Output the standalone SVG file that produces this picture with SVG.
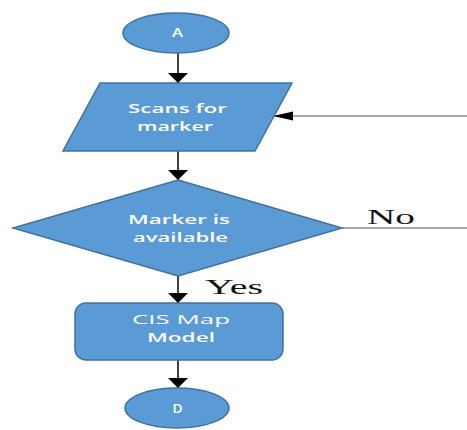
<svg xmlns="http://www.w3.org/2000/svg" width="467" height="430" viewBox="0 0 467 430">
  <defs>
    <marker id="arrow" markerUnits="userSpaceOnUse" markerWidth="10" markerHeight="20" viewBox="0 0 10 20" refX="10" refY="10" orient="auto">
      <path d="M0,0 L10,10 L0,20 Z" fill="#000"/>
    </marker>
    <marker id="arrowSide" markerUnits="userSpaceOnUse" markerWidth="20" markerHeight="10" viewBox="0 0 20 10" refX="20" refY="5" orient="auto">
      <path d="M0,0.5 L20,5 L0,9.5 Z" fill="#000"/>
    </marker>
  </defs>
  <style>
    .shape { fill: #5B9BD5; stroke: #41719C; stroke-width: 1.5; }
    .label { fill: #FFFFFF; font-family: "Open Sans", "Liberation Sans", sans-serif; font-size: 13px; font-weight: 600; text-anchor: middle; }
    .thin { font-weight: 400; }
    .small { font-size: 12px; }
    .edge { fill: #111; font-family: "Liberation Serif", "Times New Roman", serif; font-size: 20px; }
    .conn { stroke: #000; stroke-width: 1.5; fill: none; }
    .feed { stroke: #555; stroke-width: 1.2; fill: none; }
  </style>
  <rect width="467" height="430" fill="#FFFFFF"/>

  <g id="connectors">
    <line class="conn" x1="178" y1="53" x2="178" y2="83" marker-end="url(#arrow)"/>
    <line class="conn" x1="178" y1="151" x2="178" y2="180" marker-end="url(#arrow)"/>
    <line class="conn" x1="178" y1="276" x2="178" y2="303" marker-end="url(#arrow)"/>
    <line class="conn" x1="178" y1="360" x2="178" y2="388" marker-end="url(#arrow)"/>
    <line class="feed" x1="467" y1="116" x2="273" y2="116" marker-end="url(#arrowSide)"/>
    <line class="feed" x1="342" y1="228" x2="467" y2="228"/>
    <text class="edge" x="367" y="224" textLength="48" lengthAdjust="spacingAndGlyphs">No</text>
    <text class="edge" x="205" y="294" textLength="58" lengthAdjust="spacingAndGlyphs">Yes</text>
  </g>

  <g id="node-a">
    <ellipse class="shape" cx="176" cy="33" rx="53" ry="20"/>
    <text class="label small" x="177.5" y="37" textLength="11" lengthAdjust="spacingAndGlyphs">A</text>
  </g>

  <g id="node-scan">
    <polygon class="shape" points="100,83 292,83 255,151 63,151"/>
    <text class="label" x="177.5" y="113" textLength="99" lengthAdjust="spacingAndGlyphs">Scans for</text>
    <text class="label" x="175" y="131" textLength="76" lengthAdjust="spacingAndGlyphs">marker</text>
  </g>

  <g id="node-decision">
    <polygon class="shape" points="178,180 342,228 178,276 13,228"/>
    <text class="label" x="179" y="224" textLength="102" lengthAdjust="spacingAndGlyphs">Marker is</text>
    <text class="label" x="180.5" y="242" textLength="95" lengthAdjust="spacingAndGlyphs">available</text>
  </g>

  <g id="node-model">
    <rect class="shape" x="75" y="303" width="208" height="57" rx="11" ry="11"/>
    <text class="label thin" x="181" y="324" textLength="98" lengthAdjust="spacingAndGlyphs">CIS Map</text>
    <text class="label" x="181" y="342" textLength="68" lengthAdjust="spacingAndGlyphs">Model</text>
  </g>

  <g id="node-d">
    <ellipse class="shape" cx="177" cy="408" rx="52" ry="20"/>
    <text class="label small" x="177.5" y="413" textLength="10" lengthAdjust="spacingAndGlyphs">D</text>
  </g>
</svg>
